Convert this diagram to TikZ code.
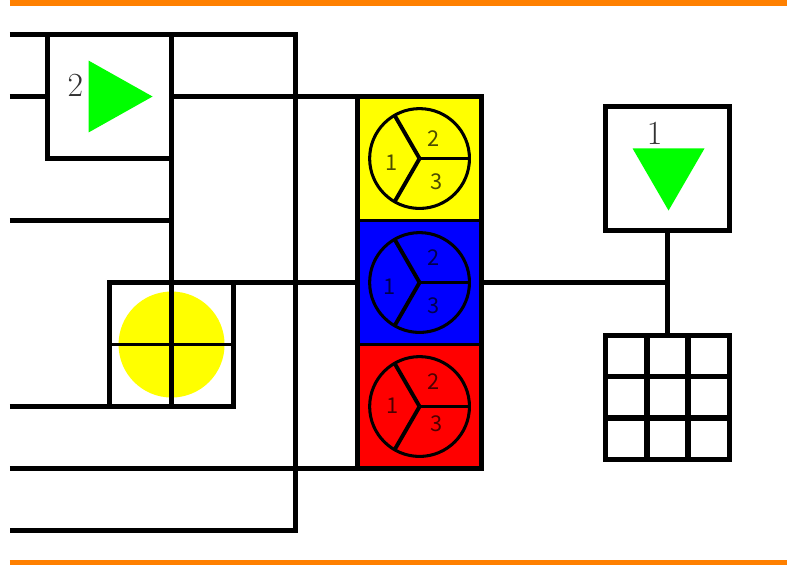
\documentclass[tikz,border=0pt]{standalone}
\usepackage{fontspec}
\newfontfamily\digitfont{Noto Sans CJK SC}
\definecolor{railorange}{RGB}{255,128,0}
\definecolor{arrowgreen}{RGB}{0,255,0}
\definecolor{pureyellow}{RGB}{255,255,0}
\definecolor{pureblue}{RGB}{0,0,255}
\definecolor{purered}{RGB}{255,0,0}
\tikzset{
  wire/.style={line width=2.5pt},
  thinwire/.style={line width=1.6pt},
  rail/.style={line width=2.4pt, color=railorange},
  unitbox/.style={draw, wire, fill=white, inner sep=0pt, outer sep=0pt, minimum size=2cm},
  colorbox/.style={draw, thinwire, fill=#1, inner sep=0pt, outer sep=0pt, minimum size=2cm},
  wheel/.style={draw, circle, line width=1.4pt, inner sep=0pt, outer sep=0pt, minimum size=1.61cm},
  spoke/.style={line width=1.8pt},
  segnum/.style={inner sep=0pt, text=black, text opacity=.7, font=\digitfont\fontsize{10}{10}\selectfont},
  boxnum/.style={inner sep=0pt, text=black!80, font=\fontsize{15.5}{15.5}\selectfont},
}
\begin{document}
\begin{tikzpicture}
\useasboundingbox (-.767,-.556) rectangle (11.975,8.557);
% top and bottom rails
\coordinate (railTL) at (-.606,8.509);
\coordinate (railTR) at (11.927,8.509);
\coordinate (railBL) at (-.606,-.516);
\coordinate (railBR) at (11.927,-.516);
\draw[rail] (railTL)--(railTR);
\draw[rail] (railBL)--(railBR);

% left ends of the wires
\coordinate (endA) at (-.606,8);
\coordinate (endB) at (-.606,7);
\coordinate (endC) at (-.606,5);
\coordinate (endD) at (-.606,2);
\coordinate (endE) at (-.606,1);
\coordinate (endF) at (-.606,0);
\coordinate (cornerA) at (4,8);
\coordinate (cornerF) at (4,0);
\coordinate (joinC) at (2,5);

% units on the left
\node[unitbox] (ampTwo) at (1,7) {};
\node[unitbox] (lampBox) at (2,3) {};
\fill[pureyellow] (lampBox.center) circle (.855);
\draw[thinwire] (lampBox.west)--(lampBox.east);
\draw[wire] (lampBox.north)--(lampBox.south);
\fill[arrowgreen] (.661,7.58)--(.661,6.42)--(1.694,7)--cycle;
\node[boxnum] (ampTwoNum) at (.45,7.18) {2};

% column of three
\node[colorbox=pureyellow] (boxY) at (6,6) {};
\node[colorbox=pureblue] (boxB) at (6,4) {};
\node[colorbox=purered] (boxR) at (6,2) {};
\draw[wire] (boxY.north west) rectangle (boxR.south east);

\begin{scope}
\node[wheel] (wheelY) at (6,6) {};
\draw[spoke] (wheelY.center)--(wheelY.0);
\draw[spoke] (wheelY.center)--(wheelY.120);
\draw[spoke] (wheelY.center)--(wheelY.240);
\node[segnum] (wheelYone) at (5.55,5.94) {1};
\node[segnum] (wheelYtwo) at (6.22,6.32) {2};
\node[segnum] (wheelYthree) at (6.27,5.63) {3};
\end{scope}
\begin{scope}
\node[wheel] (wheelB) at (6,4) {};
\draw[spoke] (wheelB.center)--(wheelB.0);
\draw[spoke] (wheelB.center)--(wheelB.120);
\draw[spoke] (wheelB.center)--(wheelB.240);
\node[segnum] (wheelBone) at (5.52,3.94) {1};
\node[segnum] (wheelBtwo) at (6.22,4.4) {2};
\node[segnum] (wheelBthree) at (6.22,3.63) {3};
\end{scope}
\begin{scope}
\node[wheel] (wheelR) at (6,2) {};
\draw[spoke] (wheelR.center)--(wheelR.0);
\draw[spoke] (wheelR.center)--(wheelR.120);
\draw[spoke] (wheelR.center)--(wheelR.240);
\node[segnum] (wheelRone) at (5.56,2.02) {1};
\node[segnum] (wheelRtwo) at (6.22,2.4) {2};
\node[segnum] (wheelRthree) at (6.27,1.72) {3};
\end{scope}

% units on the right
\node[unitbox] (ampOne) at (10,5.84) {};
\fill[arrowgreen] (9.435,6.164)--(10.597,6.164)--(10.016,5.161)--cycle;
\node[boxnum] (ampOneNum) at (9.79,6.4) {1};
\node[unitbox] (keyBox) at (10,2.15) {};
\draw[wire] ([xshift=-.333cm]keyBox.north)--([xshift=-.333cm]keyBox.south);
\draw[wire] ([xshift=.333cm]keyBox.north)--([xshift=.333cm]keyBox.south);
\draw[wire] ([yshift=.333cm]keyBox.west)--([yshift=.333cm]keyBox.east);
\draw[wire] ([yshift=-.333cm]keyBox.west)--([yshift=-.333cm]keyBox.east);

% wires
\draw[wire] (endA)--(cornerA)--(cornerF)--(endF);
\draw[wire] (endB)--(ampTwo.west);
\draw[wire] (ampTwo.north east)--(lampBox.north);
\draw[wire] (ampTwo.east)--(boxY.north west);
\draw[wire] (endC)--(joinC);
\draw[wire] (endD)--(lampBox.south west);
\draw[wire] (endE)--(boxR.south west);
\draw[wire] (lampBox.north east)--(boxB.west);
\draw[wire] (boxB.east)--(10,4);
\draw[wire] (ampOne.south)--(keyBox.north);
\end{tikzpicture}
\end{document}
